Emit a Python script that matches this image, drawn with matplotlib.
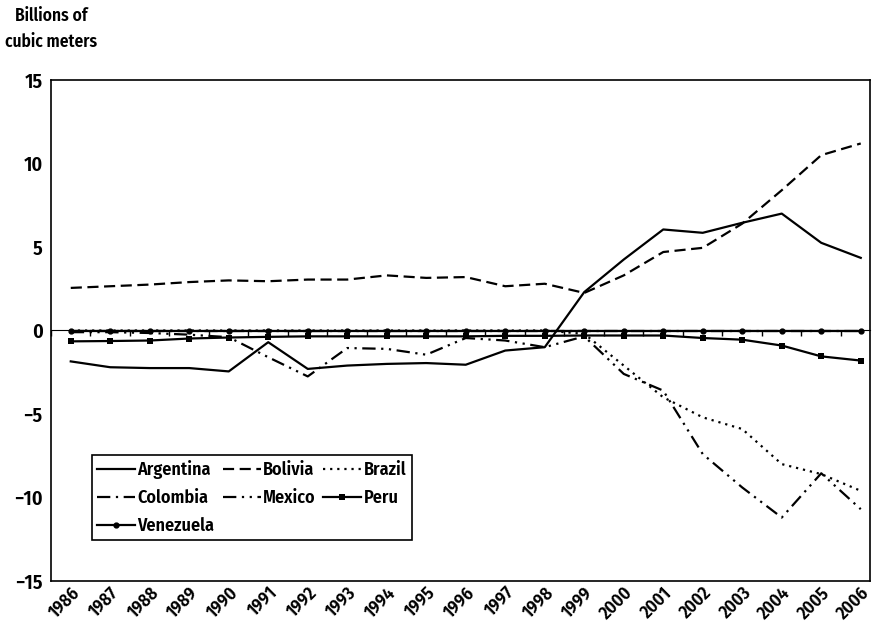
import numpy as np
import matplotlib
matplotlib.use("Agg")
import matplotlib.pyplot as plt
from matplotlib import font_manager

# pick a condensed face close to the original's narrow sans
have = set(f.name for f in font_manager.fontManager.ttflist)
font = "DejaVu Sans"
for name in ["Fira Sans Condensed", "PT Sans Narrow", "Roboto Condensed",
             "Open Sans Condensed", "Archivo Narrow", "Liberation Sans Narrow"]:
    if name in have:
        font = name
        break
plt.rcParams['font.family'] = [font, 'DejaVu Sans']
plt.rcParams['font.weight'] = 600

# data (billions of cubic meters)
years = list(range(1986, 2007))
argentina = [-1.85, -2.2, -2.25, -2.25, -2.45, -0.7, -2.3, -2.1, -2.0, -1.95, -2.05,
             -1.2, -1.0, 2.3, 4.25, 6.05, 5.85, 6.45, 7.0, 5.25, 4.35]
bolivia = [2.55, 2.65, 2.75, 2.9, 3.0, 2.95, 3.05, 3.05, 3.3, 3.15, 3.2,
           2.65, 2.8, 2.25, 3.3, 4.7, 4.95, 6.4, 8.4, 10.5, 11.2]
brazil = [0, 0, 0, 0, 0, 0, 0, 0, 0, 0, 0,
          0, 0, -0.2, -2.1, -4.0, -5.2, -5.9, -8.0, -8.6, -9.6]
colombia = [0] * 21
mexico = [-0.1, -0.1, -0.15, -0.25, -0.4, -1.6, -2.75, -1.05, -1.1, -1.45, -0.45,
          -0.6, -1.0, -0.35, -2.6, -3.6, -7.4, -9.4, -11.2, -8.55, -10.7]
peru = [-0.65, -0.63, -0.6, -0.48, -0.42, -0.38, -0.35, -0.35, -0.35, -0.35, -0.35,
        -0.32, -0.32, -0.3, -0.3, -0.3, -0.45, -0.55, -0.9, -1.55, -1.8]
venezuela = [0] * 21

fig = plt.figure(figsize=(8.74, 6.22), dpi=100)
ax = fig.add_axes([51 / 874, 1 - 581 / 622, (870 - 51) / 874, (581 - 80) / 622])

lw = 1.6
ax.plot(years, colombia, color="black", lw=lw, dashes=(6, 2.5, 1, 2.5), label="Colombia")
ax.plot(years, brazil, color="black", lw=lw, dashes=(1, 2.2), label="Brazil")
ax.plot(years, mexico, color="black", lw=lw, dashes=(6, 2.5, 1, 2.5, 1, 2.5), label="Mexico")
ax.plot(years, bolivia, color="black", lw=lw, dashes=(5, 2.5), label="Bolivia")
ax.plot(years, venezuela, color="black", lw=lw, marker="o", ms=3.5, label="Venezuela")
ax.plot(years, peru, color="black", lw=lw, marker="s", ms=4.5, mew=0, label="Peru")
ax.plot(years, argentina, color="black", lw=lw, label="Argentina")

ax.set_xlim(1985.5, 1985.5 + (870 - 51) / 39.5)
ax.set_ylim(-15, 15)
ax.set_yticks([-15, -10, -5, 0, 5, 10, 15])
ax.set_xticks(years)
ax.set_xticklabels([str(y) for y in years], rotation=45, ha="right", rotation_mode="anchor")
ax.tick_params(axis="both", length=0, labelsize=14.5, pad=6)
ax.tick_params(axis="x", labelsize=13, pad=2)
for s in ax.spines.values():
    s.set_linewidth(1.2)

# zero line with small upward ticks between the years
zero = ax.secondary_xaxis(0.5)
zero.set_xticks([y + 0.5 for y in years[:-1]] + [years[0] - 0.5])
zero.set_xticklabels([])
zero.tick_params(direction="in", length=4, width=1)
zero.spines["bottom"].set_linewidth(1.5)

h, l = ax.get_legend_handles_labels()
order = ["Argentina", "Colombia", "Venezuela", "Bolivia", "Mexico", "Brazil", "Peru"]
hh = [h[l.index(n)] for n in order]
leg = ax.legend(hh, order, ncol=3, loc="upper left",
                bbox_to_anchor=(92 / 874, 1 - 455 / 622), bbox_transform=fig.transFigure,
                borderaxespad=0, borderpad=0.3, handlelength=2.1, handletextpad=0.12,
                columnspacing=0.45, labelspacing=0.55, fontsize=13, fancybox=False,
                framealpha=1)
leg.get_frame().set_edgecolor("black")
leg.get_frame().set_linewidth(1.2)

fig.text(51 / 874, 1 - 29 / 622, "Billions of\ncubic meters", ha="center", va="center",
         fontsize=12.5, linespacing=1.6)

fig.savefig("out.png", dpi=100)
